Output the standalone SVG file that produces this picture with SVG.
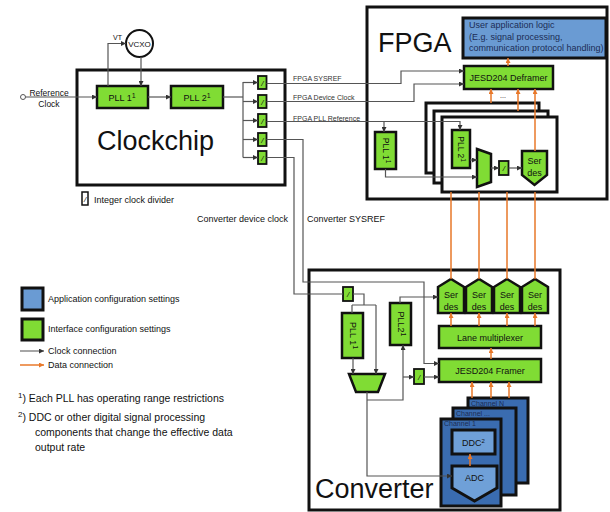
<svg xmlns="http://www.w3.org/2000/svg" width="610" height="512" viewBox="0 0 610 512">
<defs>
<marker id="ca" viewBox="0 0 6 6" refX="6" refY="3" markerWidth="5" markerHeight="5" orient="auto" markerUnits="userSpaceOnUse"><path d="M0,0 L6,3 L0,6z" fill="#333"/></marker>
<marker id="da" viewBox="0 0 6 6" refX="6" refY="3" markerWidth="5" markerHeight="5" orient="auto" markerUnits="userSpaceOnUse"><path d="M0,0 L6,3 L0,6z" fill="#e8782a"/></marker>
</defs>
<style>
text{font-family:"Liberation Sans",Arial,sans-serif;fill:#111}
.box{fill:#fff;stroke:#111;stroke-width:3}
.g{fill:#80dc34;stroke:#111;stroke-width:2.5}
.gs{fill:#80dc34;stroke:#111;stroke-width:1.8}
.ab{fill:#6a9bd3;stroke:#111;stroke-width:3}
.ch{fill:#3a6cb0;stroke:#111;stroke-width:3}
.lb{fill:#6fa0d8;stroke:#111;stroke-width:3}
.big{font-size:27px}
.t9{font-size:9px}
.lab{font-size:7px;fill:#333}
.cl{fill:none;stroke:#555;stroke-width:1.2}
.cla{fill:none;stroke:#555;stroke-width:1.2;marker-end:url(#ca)}
.da{fill:none;stroke:#e8782a;stroke-width:1.5;marker-end:url(#da)}
.dl{fill:none;stroke:#e8782a;stroke-width:1.5}
.dv{font-size:8px;font-style:italic;text-anchor:middle}
.mid{text-anchor:middle}
.nv{fill:#1c2d55}
</style>

<!-- Clockchip -->
<g id="clockchip">
<rect class="box" x="77" y="70" width="208" height="115"/>
<text class="big" x="97" y="150">Clockchip</text>
</g>
<g id="vcxo">
<circle cx="139.5" cy="43.5" r="13.5" fill="#fff" stroke="#111" stroke-width="2"/>
<text x="139.5" y="46.5" class="mid" font-size="8">VCXO</text>
</g>
<g id="refclk">
<circle cx="23" cy="97" r="2.5" fill="#fff" stroke="#555" stroke-width="1"/>
<text x="49" y="95.5" class="mid" font-size="8.5">Reference</text>
<text x="49" y="107" class="mid" font-size="8.5">Clock</text>
</g>
<g id="cc_pll1">
<rect class="g" x="97" y="86" width="51" height="22"/>
<text x="122" y="100.5" class="mid t9">PLL 1<tspan dy="-3" font-size="7">1</tspan></text>
</g>
<g id="cc_pll2">
<rect class="g" x="171" y="86" width="52" height="22"/>
<text x="197" y="100.5" class="mid t9">PLL 2<tspan dy="-3" font-size="7">1</tspan></text>
</g>
<g id="cc_dividers">
<rect class="gs" x="258" y="76" width="8.5" height="13"/><text class="dv" x="262.3" y="85.5">/</text>
<rect class="gs" x="258" y="95" width="8.5" height="13"/><text class="dv" x="262.3" y="104.5">/</text>
<rect class="gs" x="258" y="114" width="8.5" height="13"/><text class="dv" x="262.3" y="123.5">/</text>
<rect class="gs" x="258" y="133" width="8.5" height="13"/><text class="dv" x="262.3" y="142.5">/</text>
<rect class="gs" x="258" y="151" width="8.5" height="13"/><text class="dv" x="262.3" y="160.5">/</text>
</g>

<!-- FPGA -->
<g id="fpga">
<rect class="box" x="367" y="7" width="240" height="192"/>
<text class="big" x="378" y="52">FPGA</text>
</g>
<g id="userapp">
<rect class="ab" x="463" y="18" width="143" height="40"/>
<text class="t9 nv" x="469" y="28">User application logic</text>
<text class="t9 nv" x="469" y="39.5">(E.g. signal processing,</text>
<text class="t9 nv" x="469" y="51">communication protocol handling)</text>
</g>
<g id="deframer">
<rect class="g" x="464" y="66" width="89" height="23"/>
<text x="508.5" y="80.5" class="mid t9">JESD204 Deframer</text>
</g>
<g id="fpga_lanes">
<rect class="box" x="426" y="103" width="113" height="70"/>
<rect class="box" x="434" y="111" width="114" height="72"/>
<rect class="box" x="442" y="117" width="115" height="75"/>
</g>
<g id="fpga_pll1">
<rect class="g" x="375" y="132" width="21" height="37"/>
<text transform="translate(385.5,150.5) rotate(90)" class="mid" font-size="8.5" dy="3">PLL 1<tspan dy="-3" font-size="6.5">1</tspan></text>
</g>
<g id="fpga_pll2">
<rect class="g" x="452" y="130" width="18" height="38"/>
<text transform="translate(461,149) rotate(90)" class="mid" font-size="8.5" dy="3">PLL 2<tspan dy="-3" font-size="6.5">1</tspan></text>
</g>
<g id="fpga_mux"><polygon class="g" points="477,149 491,154 491,182 477,187"/></g>
<g id="fpga_div"><rect class="gs" x="499" y="161" width="9.5" height="14"/><text class="dv" x="503.8" y="171">/</text></g>
<g id="fpga_serdes">
<polygon class="g" points="522,151 547,151 547,175 534.5,185 522,175"/>
<text x="534.5" y="164" class="mid t9">Ser</text>
<text x="534.5" y="176" class="mid t9">des</text>
</g>
<text x="503" y="98" class="mid" font-size="7" fill="#888">...</text>

<!-- Converter -->
<g id="converter">
<rect class="box" x="309" y="270" width="251" height="240"/>
<text class="big" x="315" y="498">Converter</text>
</g>
<g id="conv_serdes">
<polygon class="g" points="438,287 451,279 464,287 464,313 438,313"/>
<text x="451" y="298" class="mid t9">Ser</text><text x="451" y="310" class="mid t9">des</text>
<polygon class="g" points="466,287 479,279 492,287 492,313 466,313"/>
<text x="479" y="298" class="mid t9">Ser</text><text x="479" y="310" class="mid t9">des</text>
<polygon class="g" points="494,287 507,279 520,287 520,313 494,313"/>
<text x="507" y="298" class="mid t9">Ser</text><text x="507" y="310" class="mid t9">des</text>
<polygon class="g" points="522,287 535,279 548,287 548,313 522,313"/>
<text x="535" y="298" class="mid t9">Ser</text><text x="535" y="310" class="mid t9">des</text>
</g>
<g id="lanemux">
<rect class="g" x="439" y="326" width="102" height="22"/>
<text x="490" y="340.5" class="mid t9">Lane multiplexer</text>
</g>
<g id="framer">
<rect class="g" x="439" y="359" width="102" height="23"/>
<text x="490" y="373.5" class="mid t9">JESD204 Framer</text>
</g>
<g id="conv_pll1">
<rect class="g" x="342" y="313" width="21" height="45"/>
<text transform="translate(352.5,335.5) rotate(90)" class="mid" font-size="9" dy="3">PLL 1<tspan dy="-3" font-size="7">1</tspan></text>
</g>
<g id="conv_pll2">
<rect class="g" x="390" y="303" width="21" height="42"/>
<text transform="translate(400.5,324) rotate(90)" class="mid" font-size="9" dy="3">PLL2<tspan dy="-3" font-size="7">1</tspan></text>
</g>
<g id="conv_div1"><rect class="gs" x="343" y="287" width="10" height="14"/><text class="dv" x="348" y="297">/</text></g>
<g id="conv_div2"><rect class="gs" x="414" y="369" width="10" height="15"/><text class="dv" x="419" y="379.5">/</text></g>
<g id="conv_mux"><polygon class="g" points="349,374 385,374 378,392 356,392"/></g>
<g id="channels">
<rect class="ch" x="468" y="398" width="60" height="85"/>
<text x="471" y="405.5" font-size="7" class="nv">Channel N</text>
<rect class="ch" x="453" y="408" width="63" height="87"/>
<text x="456" y="415.5" font-size="7" class="nv">Channel ...</text>
<rect class="ch" x="441" y="419" width="60" height="87"/>
<text x="444" y="426" font-size="7" class="nv">Channel 1</text>
</g>
<g id="ddc">
<rect class="lb" x="452" y="430" width="43" height="24"/>
<text x="473.5" y="445.5" class="mid t9" fill="#1c2d55">DDC<tspan dy="-3" font-size="6">2</tspan></text>
</g>
<g id="adc">
<polygon class="lb" points="452,466 497,466 497,488 474.5,501 452,488"/>
<text x="474.5" y="481" class="mid t9" fill="#1c2d55">ADC</text>
</g>

<!-- Connectors -->
<g id="connectors">
<path class="cla" d="M25.5,97 H97"/>
<path class="cla" d="M148,97 H171"/>
<path class="cl" d="M223,97 H243"/>
<path class="cl" d="M243,82 V157.5"/>
<path class="cla" d="M243,82.5 H258"/>
<path class="cla" d="M243,101.5 H258"/>
<path class="cla" d="M243,120.5 H258"/>
<path class="cla" d="M243,139.5 H258"/>
<path class="cla" d="M243,157.5 H258"/>
<path class="cla" d="M108,86 V43.5 H126"/>
<path class="cla" d="M141,57 V86"/>
<path class="cla" d="M266.5,83.5 H401 V71 H464"/>
<path class="cla" d="M266.5,101.5 H414 V84 H464"/>
<path class="cla" d="M266.5,121.5 H460 V130"/>
<path class="cla" d="M384,121.5 V132"/>
<path class="cla" d="M266.5,139.5 H303 V282 H424 V363.5 H439"/>
<path class="cl" d="M266.5,157.5 H294 V294 H343"/>
<path class="cla" d="M385.5,169 V177 H477"/>
<path class="cla" d="M470,160 H477"/>
<path class="cla" d="M491,168 H499"/>
<path class="cla" d="M508.5,168 H522"/>
<path class="cl" d="M353,294 H364 V305 M352,305 H376 M352,305 V313"/>
<path class="cla" d="M376,305 V374"/>
<path class="cla" d="M353,358 V374"/>
<path class="cla" d="M367,392 V476 H452"/>
<path class="cla" d="M367,400 H403 V345"/>
<path class="cla" d="M403,377 H414"/>
<path class="cla" d="M424,377 H439"/>
<path class="cla" d="M400,303 V297 H438"/>
<!-- data -->
<path class="da" d="M508,66 V58"/>
<path class="da" d="M491,103 V89"/>
<path class="da" d="M518,111 V89"/>
<path class="da" d="M535,151 V89"/>
<path class="dl" d="M451,279 V192 M479,279 V192 M507,279 V192 M535,279 V192"/>
<path class="da" d="M451,326 V313"/>
<path class="da" d="M479,326 V313"/>
<path class="da" d="M507,326 V313"/>
<path class="da" d="M535,326 V313"/>
<path class="da" d="M491,359 V348"/>
<path class="da" d="M472,398 V382"/>
<path class="da" d="M491,398 V382"/>
<path class="da" d="M509,398 V382"/>
<path class="da" d="M470,466 V454"/>
</g>

<!-- labels -->
<text x="113" y="40" font-size="7" fill="#333">VT</text>
<text class="lab" x="293" y="81">FPGA SYSREF</text>
<text class="lab" x="293" y="100">FPGA Device Clock</text>
<text class="lab" x="293" y="120.5">FPGA PLL Reference</text>
<text x="288" y="222" font-size="9" fill="#333" text-anchor="end">Converter device clock</text>
<text x="307" y="222" font-size="9" fill="#333">Converter SYSREF</text>

<!-- legend -->
<g id="legend">
<rect x="82" y="192" width="6" height="13" fill="#fff" stroke="#111" stroke-width="1.5"/>
<text class="dv" x="85" y="201.5" font-size="7">/</text>
<text x="94" y="203" class="t9">Integer clock divider</text>
<rect class="ab" x="22" y="288" width="21" height="22"/>
<text x="48" y="301.5" class="t9">Application configuration settings</text>
<rect class="g" x="22" y="319" width="21" height="21" style="stroke-width:3"/>
<text x="48" y="331.5" class="t9">Interface configuration settings</text>
<path d="M20,351 H44" stroke="#888" stroke-width="1.5" fill="none" marker-end="url(#ca)"/>
<text x="48" y="354" class="t9">Clock connection</text>
<path class="da" d="M20,365 H44"/>
<text x="48" y="368" class="t9">Data connection</text>
<text x="18" y="402" font-size="10.5"><tspan dy="-4" font-size="8">1</tspan><tspan dy="4">) Each PLL has operating range restrictions</tspan></text>
<text x="18" y="421" font-size="10.5"><tspan dy="-4" font-size="8">2</tspan><tspan dy="4">) DDC or other digital signal processing</tspan></text>
<text x="35" y="436" font-size="10.5">components that change the effective data</text>
<text x="35" y="451" font-size="10.5">output rate</text>
</g>
</svg>
